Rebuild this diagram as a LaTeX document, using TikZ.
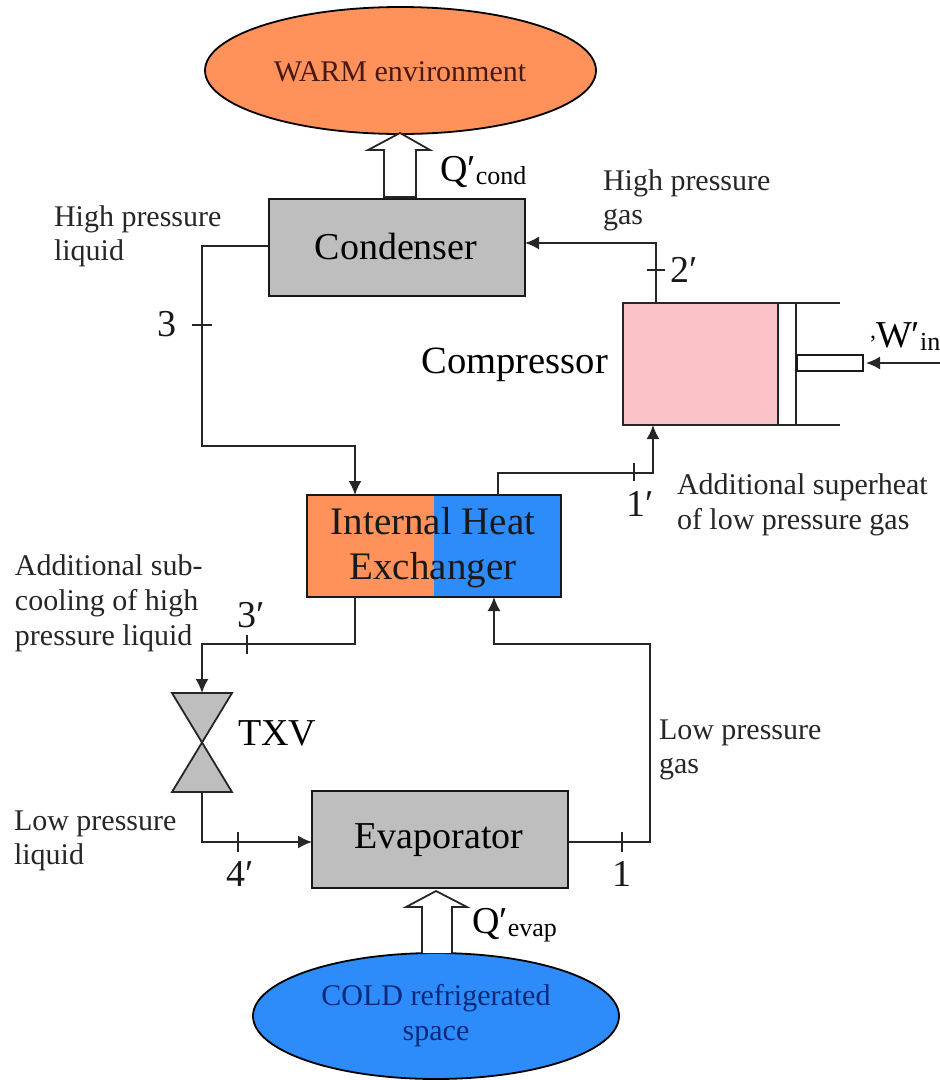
\documentclass[tikz,border=0pt]{standalone}
\usepackage{fontspec}
\setmainfont{Liberation Serif}
\usetikzlibrary{shapes.geometric,arrows.meta}
\definecolor{warm}{RGB}{255,145,90}
\definecolor{cold}{RGB}{45,140,250}
\definecolor{grayb}{RGB}{190,190,190}
\definecolor{pinkb}{RGB}{250,195,200}
\definecolor{warmtext}{RGB}{70,25,20}
\definecolor{coldtext}{RGB}{10,40,120}
\newcommand{\fs}[1]{\fontsize{#1}{#1}\selectfont}
\tikzset{
  x=1pt,y=-1pt,
  every node/.style={inner sep=0pt,outer sep=0pt},
  line/.style={draw=black!85,line width=1.8pt},
  arr/.style={line,-{Latex[length=14pt,width=13pt]}},
  tick/.style={draw=black!85,line width=1.3pt},
  blockbox/.style={draw=black!90,line width=1.8pt,fill=grayb,anchor=north west},
  env/.style={ellipse,draw=black,line width=1.8pt,font=\fs{30},align=center},
  note/.style={anchor=west,font=\fs{30},align=left,text=black!85},
  num/.style={font=\fs{38},text=black!90},
  hollow/.style={draw=black!85,line width=1.8pt,fill=white,line join=miter},
}
\begin{document}
\begin{tikzpicture}
\useasboundingbox (0,0) rectangle (940,1080);
% environments
\node[env,fill=warm,minimum width=391pt,minimum height=127pt] (warmenv) at (400.5,70.5) {};
\node[font=\fs{30},text=warmtext] (warmt) at (400,72) {WARM environment};
\node[env,fill=cold,text=coldtext,minimum width=366pt,minimum height=126pt] (coldenv) at (436,1016) {COLD refrigerated\\[5pt]space};
% blocks
\node[blockbox,minimum width=256pt,minimum height=97pt] (cond) at (269,199) {};
\node[font=\fs{38}] (condt) at (396,246) {Condenser};
\node[blockbox,minimum width=256pt,minimum height=97pt] (evap) at (312,791) {};
\node[font=\fs{38}] (evapt) at (439,840) {Evaporator};
% compressor
\node[draw=black!85,line width=1.8pt,fill=pinkb,anchor=north west,minimum width=155pt,minimum height=122pt] (comp) at (623,303) {};
\node[draw=black!85,line width=1.8pt,fill=white,anchor=north west,minimum width=18pt,minimum height=122pt] (piston) at (778,303) {};
\node[draw=black!90,line width=1.8pt,fill=white,anchor=north west,minimum width=66pt,minimum height=16pt] (rod) at (797,355) {};
\coordinate (ct) at (840,303);
\coordinate (cb) at (840,425);
\draw[line] (piston.north east) -- (ct);
\draw[line] (piston.south east) -- (cb);
\node[font=\fs{38.6},anchor=east] (compt) at (608,365) {Compressor};
% IHX
\fill[warm] (307,495) rectangle (434,597);
\fill[cold] (434,495) rectangle (561,597);
\node[draw=black!90,line width=2pt,anchor=north west,minimum width=254pt,minimum height=102pt] (ihx) at (307,495) {};
\node[font=\fs{39},align=center,text=black!90] (ihxt) at (433,548) {Internal Heat\\[6pt]Exchanger};
% TXV
\draw[line,fill=grayb,line join=miter] (172,693) -- (232,693) -- (172,792) -- (232,792) -- cycle;
\coordinate (vt) at (202,693);
\coordinate (vb) at (202,792);
\node[font=\fs{38},anchor=west] (txv) at (238,733) {TXV};
% connectors
\coordinate (a1) at (202,246);
\coordinate (a2) at (202,446);
\coordinate (a3) at (355,446);
\coordinate (a4) at (355,495);
\draw[arr] (269,246) -- (a1) -- (a2) -- (a3) -- (a4);
\coordinate (b1) at (656,303);
\coordinate (b2) at (656,243);
\coordinate (b3) at (525,243);
\draw[arr] (b1) -- (b2) -- (b3);
\coordinate (c1) at (498,495);
\coordinate (c2) at (498,473);
\coordinate (c3) at (653,473);
\coordinate (c4) at (653,425);
\draw[arr] (c1) -- (c2) -- (c3) -- (c4);
\coordinate (d1) at (355,597);
\coordinate (d2) at (355,644);
\coordinate (d3) at (202,644);
\draw[arr] (d1) -- (d2) -- (d3) -- (vt);
\coordinate (e1) at (202,842);
\coordinate (e2) at (312,842);
\draw[arr] (vb) -- (e1) -- (e2);
\coordinate (f1) at (568,842);
\coordinate (f2) at (650,842);
\coordinate (f3) at (650,644);
\coordinate (f4) at (494,644);
\coordinate (f5) at (494,597);
\draw[arr] (f1) -- (f2) -- (f3) -- (f4) -- (f5);
\coordinate (w1) at (940,363);
\coordinate (w2) at (866,363);
\draw[arr] (w1) -- (w2);
% ticks
\draw[tick] (647,270) -- (665,270);
\draw[tick] (192,325) -- (212,325);
\draw[tick] (634,463) -- (634,481);
\draw[tick] (247,635) -- (247,654);
\draw[tick] (238,832) -- (238,852);
\draw[tick] (622,832) -- (622,852);
% hollow arrows
\draw[hollow] (384,197) -- (384,150) -- (368,150) -- (400,133) -- (430,150) -- (416,150) -- (416,197) -- cycle;
\draw[hollow] (422,953) -- (422,907) -- (406,907) -- (436,891) -- (467,907) -- (452,907) -- (452,953);
% numbers
\node[num] (n2) at (684,270) {2′};
\node[num] (n3) at (167,324) {3};
\node[num] (n1p) at (640,504) {1′};
\node[num] (n3p) at (251,615) {3′};
\node[num] (n4p) at (240,874) {4′};
\node[num] (n1) at (622,874) {1};
% heat labels
\node[anchor=west,font=\fs{38}] (qc) at (440,172) {Q′\raisebox{-3pt}{\fs{26}cond}};
\node[anchor=west,font=\fs{38}] (qe) at (472,925) {Q′\raisebox{-3pt}{\fs{26}evap}};
\node[anchor=west,font=\fs{38}] (wi) at (870,337) {\raisebox{9pt}{\fs{24},}W′\raisebox{-3pt}{\fs{26}in}};
% notes
\node[note] (l1) at (603,200) {High pressure\\[4pt]gas};
\node[note] (l2) at (54,236) {High pressure\\[4pt]liquid};
\node[note] (l3) at (677,505) {Additional superheat\\[5pt]of low pressure gas};
\node[note] (l4) at (15,603) {Additional sub-\\[5pt]cooling of high\\[5pt]pressure liquid};
\node[note] (l5) at (659,750) {Low pressure\\[4pt]gas};
\node[note] (l6) at (14,841) {Low pressure\\[4pt]liquid};
\end{tikzpicture}
\end{document}
